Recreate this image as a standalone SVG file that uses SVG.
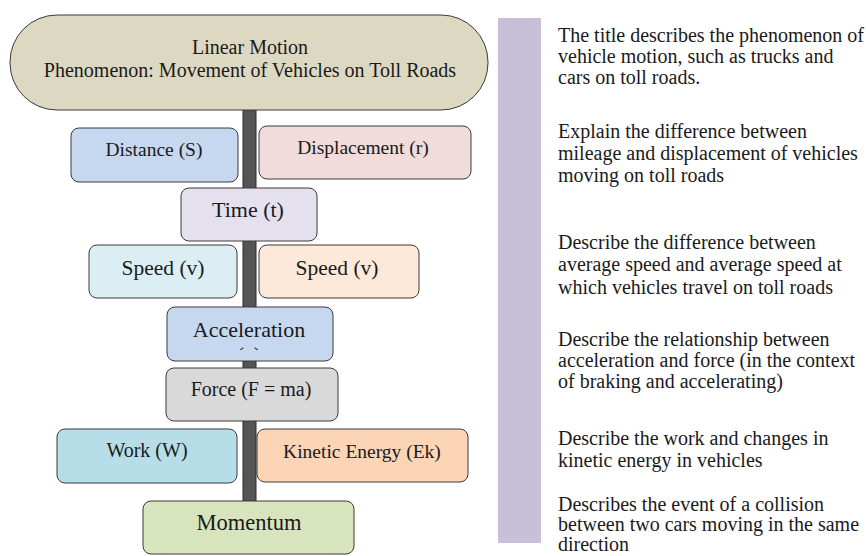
<svg xmlns="http://www.w3.org/2000/svg" width="866" height="556" viewBox="0 0 866 556">
  <style>
    .box { stroke: #3a3a3a; stroke-width: 1; }
    .lbl { font-family: "Liberation Serif", "Times New Roman", serif; fill: #1a1a1a; text-anchor: middle; }
    .note { font-family: "Liberation Serif", "Times New Roman", serif; fill: #1a1a1a; font-size: 20px; }
  </style>
  <defs>
    <clipPath id="accClip">
      <rect x="167" y="307" width="166" height="43"/>
    </clipPath>
  </defs>
  <rect width="866" height="556" fill="#ffffff"/>

  <!-- sidebar band -->
  <rect x="498" y="18" width="43" height="525" fill="#c8bfd9"/>

  <!-- central spine -->
  <g id="connectors">
    <rect x="243" y="108" width="13" height="395" fill="#555555" stroke="#2a2a2a" stroke-width="1"/>
  </g>

  <g id="title">
    <rect class="box" x="10" y="15" width="478" height="95" rx="47" ry="47" fill="#ddd8c2"/>
    <text class="lbl" x="250" y="54" font-size="20">Linear Motion</text>
    <text class="lbl" x="250" y="77" font-size="20">Phenomenon: Movement of Vehicles on Toll Roads</text>
  </g>

  <g id="distance">
    <rect class="box" x="71" y="128" width="167" height="54" rx="8" fill="#c6d8ef"/>
    <text class="lbl" x="154" y="156" font-size="19.5">Distance (S)</text>
  </g>
  <g id="displacement">
    <rect class="box" x="259" y="126" width="212" height="53" rx="8" fill="#f1dbdb"/>
    <text class="lbl" x="363" y="154" font-size="19.5">Displacement (r)</text>
  </g>
  <g id="time">
    <rect class="box" x="181" y="188" width="136" height="53" rx="8" fill="#e5e0ed"/>
    <text class="lbl" x="248" y="217" font-size="22">Time (t)</text>
  </g>
  <g id="speed-left">
    <rect class="box" x="89" y="245" width="148" height="53" rx="8" fill="#dbeef4"/>
    <text class="lbl" x="163" y="275" font-size="21.5">Speed (v)</text>
  </g>
  <g id="speed-right">
    <rect class="box" x="259" y="245" width="160" height="53" rx="8" fill="#fde9da"/>
    <text class="lbl" x="337" y="275" font-size="21.5">Speed (v)</text>
  </g>
  <g id="acceleration">
    <rect class="box" x="167" y="307" width="166" height="54" rx="8" fill="#c6d8ef"/>
    <text class="lbl" x="249" y="337" font-size="22">Acceleration</text>
    <text class="lbl" x="249" y="362" font-size="22" clip-path="url(#accClip)">(a)</text>
  </g>
  <g id="force">
    <rect class="box" x="166" y="368" width="172" height="53" rx="8" fill="#d9d9d9"/>
    <text class="lbl" x="251" y="396" font-size="20">Force (F = ma)</text>
  </g>
  <g id="work">
    <rect class="box" x="57" y="429" width="180" height="54" rx="8" fill="#b7dde8"/>
    <text class="lbl" x="147" y="457" font-size="20">Work (W)</text>
  </g>
  <g id="kinetic-energy">
    <rect class="box" x="257" y="429" width="211" height="53" rx="8" fill="#fbd5b6"/>
    <text class="lbl" x="362" y="458" font-size="19.5">Kinetic Energy (Ek)</text>
  </g>
  <g id="momentum">
    <rect class="box" x="143" y="501" width="211" height="53" rx="8" fill="#d7e4be"/>
    <text class="lbl" x="249" y="530" font-size="22.5">Momentum</text>
  </g>

  <!-- explanatory notes -->
  <g id="notes">
    <text class="note" x="558" y="42">The title describes the phenomenon of</text>
    <text class="note" x="558" y="63">vehicle motion, such as trucks and</text>
    <text class="note" x="558" y="84">cars on toll roads.</text>

    <text class="note" x="558" y="138">Explain the difference between</text>
    <text class="note" x="558" y="160">mileage and displacement of vehicles</text>
    <text class="note" x="558" y="182">moving on toll roads</text>

    <text class="note" x="558" y="249">Describe the difference between</text>
    <text class="note" x="558" y="271">average speed and average speed at</text>
    <text class="note" x="558" y="294">which vehicles travel on toll roads</text>

    <text class="note" x="558" y="346">Describe the relationship between</text>
    <text class="note" x="558" y="367">acceleration and force (in the context</text>
    <text class="note" x="558" y="388">of braking and accelerating)</text>

    <text class="note" x="558" y="445">Describe the work and changes in</text>
    <text class="note" x="558" y="467">kinetic energy in vehicles</text>

    <text class="note" x="558" y="511">Describes the event of a collision</text>
    <text class="note" x="558" y="531">between two cars moving in the same</text>
    <text class="note" x="558" y="551">direction</text>
  </g>
</svg>
